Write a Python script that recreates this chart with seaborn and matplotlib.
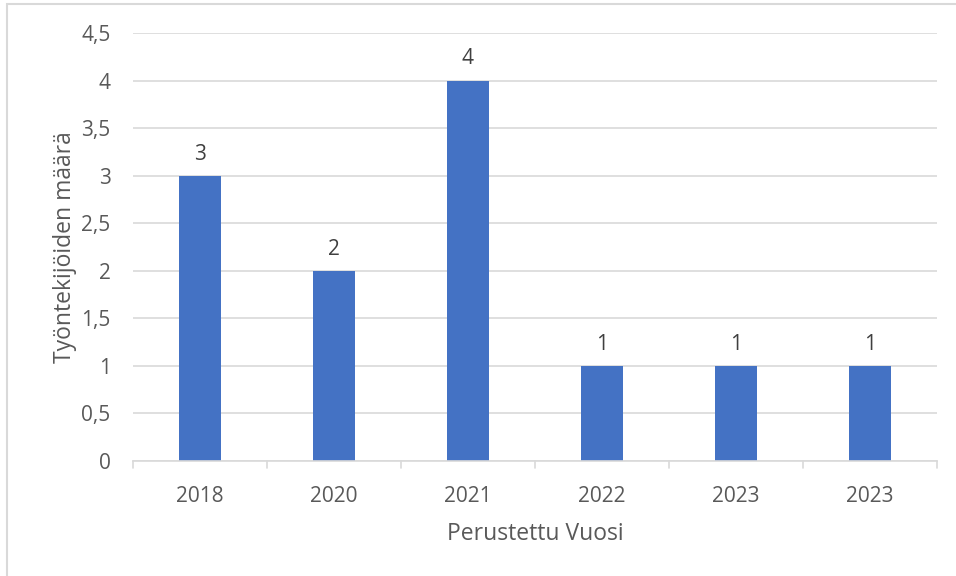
import pandas as pd
import seaborn as sns
import matplotlib.pyplot as plt
from matplotlib.patches import Rectangle

# Data
years = ["2018", "2020", "2021", "2022", "2023", "2023"]
employees = [3, 2, 4, 1, 1, 1]

df = pd.DataFrame({"pos": range(len(years)), "employees": employees})

sns.set_style("white")
plt.rcParams["font.family"] = ["Open Sans", "DejaVu Sans"]
text_color = "#595959"
grid_color = "#D9D9D9"

fig = plt.figure(figsize=(9.56, 5.76), dpi=100)
ax = fig.add_axes([0.139, 0.1997, 0.841, 0.743])

sns.barplot(data=df, x="pos", y="employees", color="#4472C4", saturation=1,
            width=0.31, linewidth=0, ax=ax)

ax.set_ylim(0, 4.5)
ax.set_xlim(-0.5, len(years) - 0.5)
yticks = [i * 0.5 for i in range(10)]
ax.set_yticks(yticks)
ax.set_yticklabels([f"{t:g}".replace(".", ",") for t in yticks],
                   fontsize=15, color=text_color)
ax.set_xticks(range(len(years)))
ax.set_xticklabels(years, fontsize=15, color=text_color)
ax.tick_params(axis="both", length=0)
ax.tick_params(axis="x", pad=18)
ax.tick_params(axis="y", pad=16)

ax.grid(axis="y", color=grid_color, linewidth=1.2)
ax.set_axisbelow(True)
for side in ["top", "right", "left"]:
    ax.spines[side].set_visible(False)
ax.spines["bottom"].set_color(grid_color)
ax.spines["bottom"].set_linewidth(1.2)

# category boundary tick marks
for b in [i - 0.5 for i in range(len(years) + 1)]:
    ax.plot([b, b], [0, -0.07], color=grid_color, linewidth=1.2,
            clip_on=False)

ax.bar_label(ax.containers[0], labels=[str(v) for v in employees],
             padding=8, fontsize=15, color="#404040")

ax.set_xlabel("Perustettu Vuosi", fontsize=16.5, color=text_color, labelpad=11)
ax.set_ylabel("Työntekijöiden määrä", fontsize=16.5, color=text_color, labelpad=3)

fig.patches.append(Rectangle((6.5 / 956, -0.05), 1.1, 1.05 - 4.5 / 576,
                             transform=fig.transFigure, fill=False,
                             edgecolor=grid_color, linewidth=1.5))

fig.savefig("out.png", dpi=100)
